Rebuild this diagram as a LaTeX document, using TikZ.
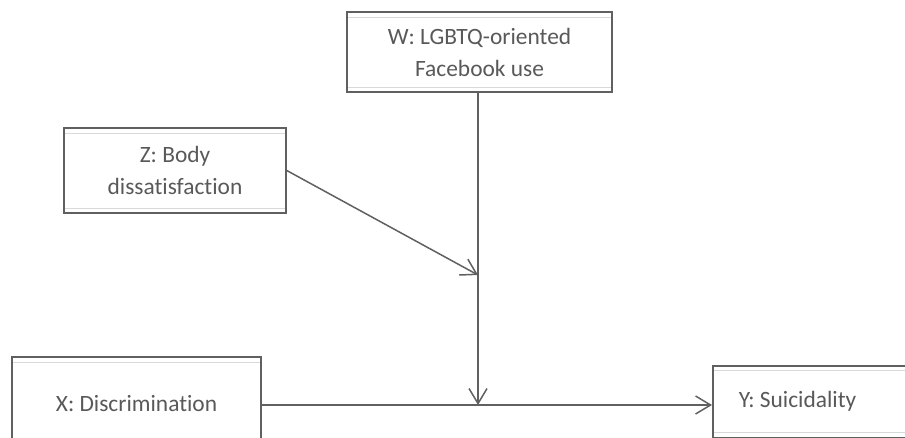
\documentclass[tikz,border=0pt]{standalone}
\usepackage{fontspec}
\setmainfont{Carlito}[Ligatures=NoCommon]
\usetikzlibrary{arrows.meta,positioning}
\definecolor{linegray}{HTML}{606060}
\definecolor{textgray}{HTML}{595959}

\begin{document}
\begin{tikzpicture}[x=1pt,y=-1pt,
    >={Straight Barb[length=15pt,width=18pt]},
    every node/.style={font=\fontsize{23.4}{32}\selectfont, text=textgray},
    var/.style={draw=linegray, line width=1.5pt, fill=white, align=center, inner sep=0pt,
      path picture={
        \draw[black!15, line width=0.8pt]
          ([yshift=-5pt]path picture bounding box.north west) -- ([yshift=-5pt]path picture bounding box.north east)
          ([yshift=5pt]path picture bounding box.south west) -- ([yshift=5pt]path picture bounding box.south east);
      }},
    link/.style={draw=linegray, line width=1.5pt, ->}]
  \useasboundingbox (0,0) rectangle (905,438);
  % variables
  \node[var, minimum width=265pt, minimum height=80pt] (W) at (479.5,52) {W: LGBTQ-oriented\\Facebook use};
  \node[var, minimum width=222pt, minimum height=85pt] (Z) at (175,170.5) {Z: Body\\dissatisfaction};
  \node[var, minimum width=249pt, minimum height=94pt] (X) at (136.5,404) {X: Discrimination};
  \node[var, anchor=north west, minimum height=72pt, text width=200pt, align=flush left, inner xsep=26pt] (Y) at (712,365) {Y: Suicidality};
  % junctions
  \coordinate (j) at (478,405);
  \coordinate (k) at (478,275);
  % paths
  \draw[link] (W.south -| j) -- (j);
  \draw[link] (Z.east) -- (k);
  \draw[link] (X.east |- j) -- (j -| Y.west);
\end{tikzpicture}
\end{document}
